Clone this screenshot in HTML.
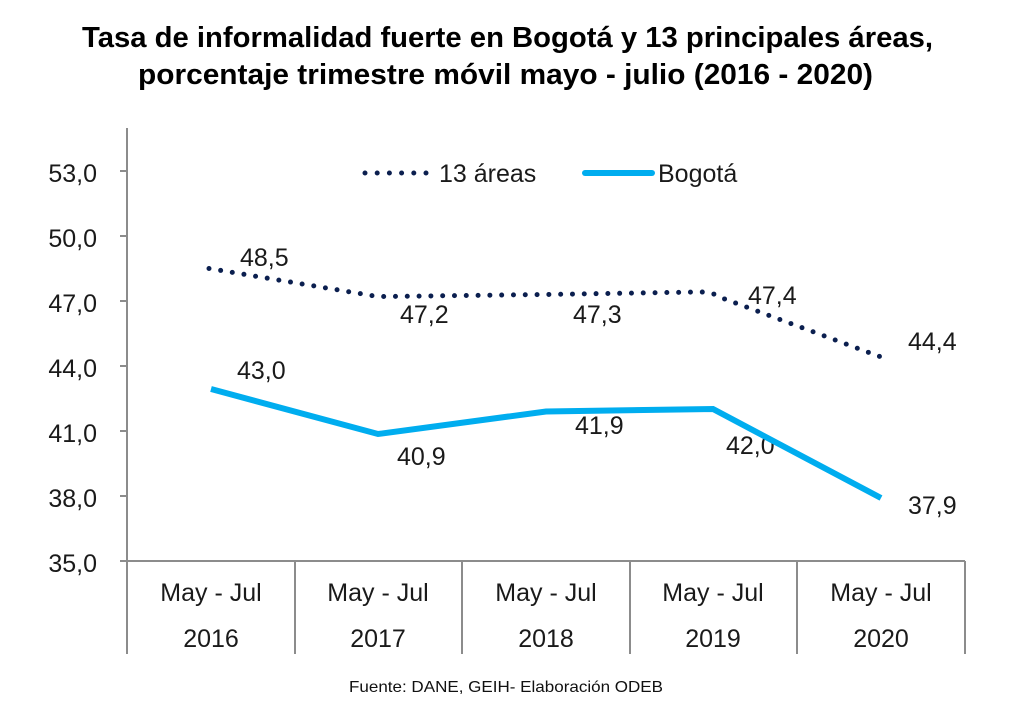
<!DOCTYPE html>
<html><head><meta charset="utf-8"><style>
html,body{margin:0;padding:0;background:#fff;}
svg{display:block;}
</style></head><body>
<svg width="1024" height="708" viewBox="0 0 1024 708" xmlns="http://www.w3.org/2000/svg">
<rect x="0" y="0" width="1024" height="708" fill="#ffffff"/>
<g font-family="'Liberation Sans', Arial, sans-serif" font-weight="bold" font-size="29" fill="#000">
<text x="82" y="47" textLength="851" lengthAdjust="spacingAndGlyphs">Tasa de informalidad fuerte en Bogotá y 13 principales áreas,</text>
<text x="138" y="84" textLength="735" lengthAdjust="spacingAndGlyphs">porcentaje trimestre móvil mayo - julio (2016 - 2020)</text>
</g>
<g stroke="#8c8c8c" stroke-width="2" fill="none">
<line x1="127" y1="128" x2="127" y2="654"/>
<line x1="120" y1="561" x2="965" y2="561"/>
<line x1="295" y1="561" x2="295" y2="654"/>
<line x1="462" y1="561" x2="462" y2="654"/>
<line x1="630" y1="561" x2="630" y2="654"/>
<line x1="797" y1="561" x2="797" y2="654"/>
<line x1="965" y1="561" x2="965" y2="654"/>
<line x1="120" y1="171" x2="127" y2="171"/>
<line x1="120" y1="236" x2="127" y2="236"/>
<line x1="120" y1="301" x2="127" y2="301"/>
<line x1="120" y1="366" x2="127" y2="366"/>
<line x1="120" y1="431" x2="127" y2="431"/>
<line x1="120" y1="496" x2="127" y2="496"/>
</g>
<g font-family="'Liberation Sans', Arial, sans-serif" font-size="25" fill="#1a1a1a">
<g text-anchor="end">
<text x="97" y="182">53,0</text>
<text x="97" y="247">50,0</text>
<text x="97" y="312">47,0</text>
<text x="97" y="377">44,0</text>
<text x="97" y="442">41,0</text>
<text x="97" y="507">38,0</text>
<text x="97" y="572">35,0</text>
</g>
<g text-anchor="middle">
<text x="211" y="601">May - Jul</text>
<text x="378" y="601">May - Jul</text>
<text x="546" y="601">May - Jul</text>
<text x="713" y="601">May - Jul</text>
<text x="881" y="601">May - Jul</text>
<text x="211" y="647">2016</text>
<text x="378" y="647">2017</text>
<text x="546" y="647">2018</text>
<text x="713" y="647">2019</text>
<text x="881" y="647">2020</text>
</g>
<text x="240" y="266">48,5</text>
<text x="400" y="323">47,2</text>
<text x="573" y="323">47,3</text>
<text x="748" y="304">47,4</text>
<text x="908" y="350">44,4</text>
<text x="237" y="379">43,0</text>
<text x="397" y="465">40,9</text>
<text x="575" y="434">41,9</text>
<text x="726" y="454">42,0</text>
<text x="908" y="514">37,9</text>
<text x="439" y="182">13 áreas</text>
<text x="658" y="182">Bogotá</text>
</g>
<line x1="365" y1="173" x2="426" y2="173" stroke="#0b1f4f" stroke-width="5" stroke-linecap="round" stroke-dasharray="0 12.2"/>
<line x1="585" y1="173" x2="652" y2="173" stroke="#00adef" stroke-width="6" stroke-linecap="round"/>
<path d="M209,268.5 L378,296.6 L546,294.5 L700,292 Q713,292 722,298 L881,357" fill="none" stroke="#0b1f4f" stroke-width="5" stroke-linecap="round" stroke-dasharray="0 11.8"/>
<polyline points="211,389 378,434 546,411.5 713,409 881,498" fill="none" stroke="#00adef" stroke-width="6" stroke-linejoin="miter"/>
<text x="349" y="692" font-family="'Liberation Sans', Arial, sans-serif" font-size="16" fill="#111" textLength="314" lengthAdjust="spacingAndGlyphs">Fuente: DANE, GEIH- Elaboración ODEB</text>
</svg>
</body></html>
